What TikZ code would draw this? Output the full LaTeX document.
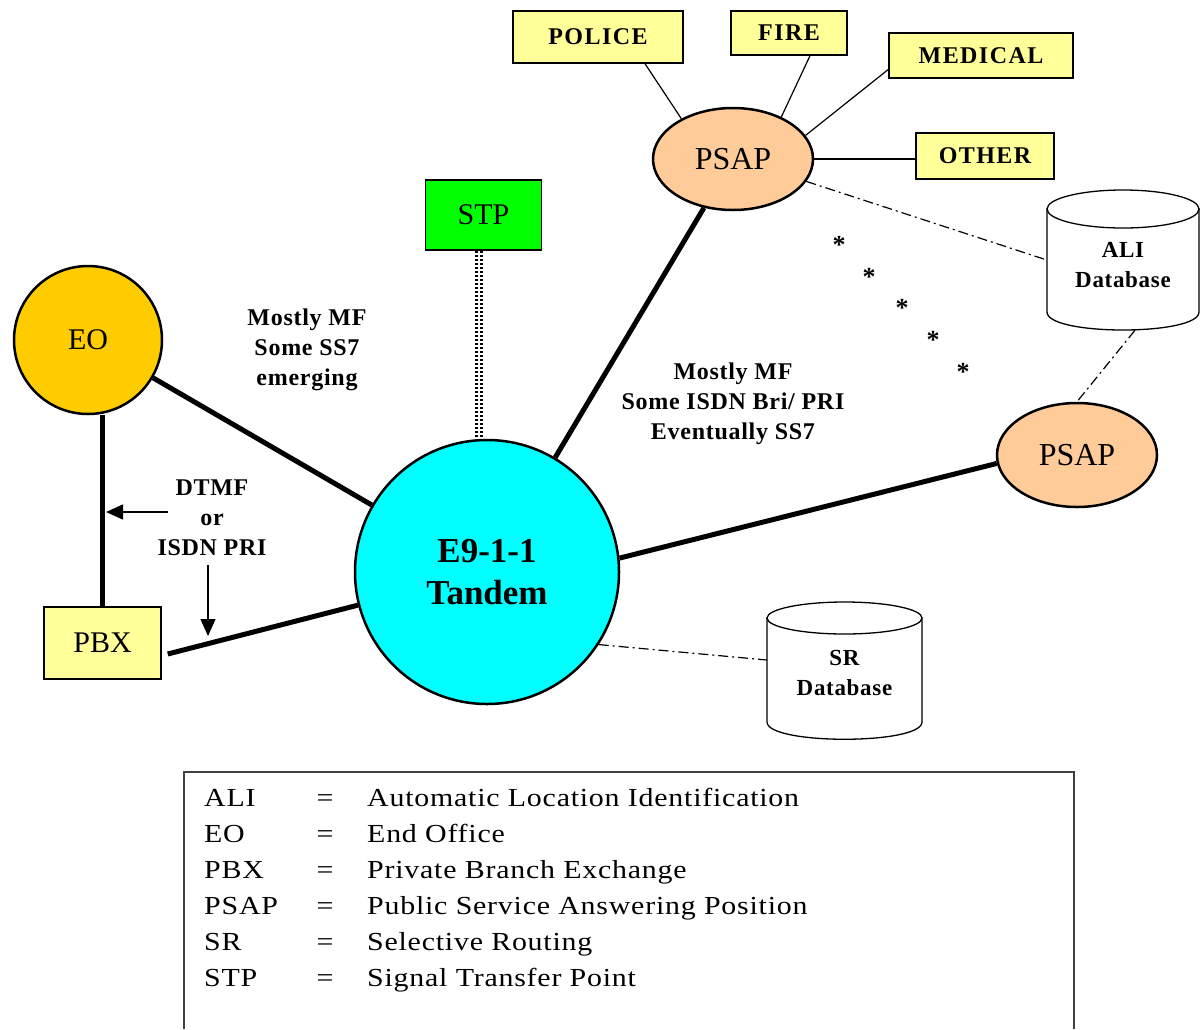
\documentclass[tikz,border=0pt]{standalone}
\usepackage{fontspec}
\setmainfont{Liberation Serif}
\newfontfamily\boxfont[LetterSpace=6]{Liberation Serif}
\newfontfamily\labfont[LetterSpace=3]{Liberation Serif}
\newfontfamily\legfont[FakeStretch=1.15,LetterSpace=3]{Liberation Serif}
\usetikzlibrary{arrows.meta,shapes.geometric}
\definecolor{boxyellow}{RGB}{255,255,153}
\definecolor{stpgreen}{RGB}{0,255,0}
\definecolor{eogold}{RGB}{255,204,0}
\definecolor{psapfill}{RGB}{255,204,153}
\definecolor{tandemcyan}{RGB}{0,255,255}
\begin{document}
\begin{tikzpicture}[x=1pt,y=-1pt,
  ybox/.style={draw, line width=1.5pt, fill=boxyellow, inner sep=0pt,
    font=\boxfont\bfseries\fontsize{24}{28}\selectfont},
  psapnode/.style={ellipse, draw, line width=2.5pt, fill=psapfill, inner sep=0pt,
    minimum width=160pt, font=\fontsize{32}{36}\selectfont},
  lab/.style={align=center, inner sep=0pt, font=\labfont\bfseries\fontsize{24}{30}\selectfont},
  db/.style={align=center, inner sep=0pt, font=\labfont\bfseries\fontsize{23}{30}\selectfont},
  cyl/.style={fill=white, line width=1.3pt},
  trunk/.style={line width=5pt},
  thinline/.style={line width=1.2pt},
  dashdot/.style={line width=1.2pt, dash pattern=on 10pt off 4pt on 2pt off 4pt},
  arr/.style={line width=1.3pt, -{Triangle[length=17pt,width=15pt]}},
  starmark/.style={inner sep=0pt, yshift=-3pt, font=\bfseries\fontsize{26}{26}\selectfont},
  leg/.style={inner sep=0pt, font=\legfont\fontsize{26}{30}\selectfont}
]
\useasboundingbox (0,0) rectangle (1200,1029);

% legend frame
\draw[line width=1.5pt, black!75] (184,1029) -- (184,772) -- (1074,772) -- (1074,1029);

% STP link (double dotted)
\node[draw, line width=1.5pt, fill=stpgreen, minimum width=116pt, minimum height=70pt,
  inner sep=0pt, font=\fontsize{30}{34}\selectfont] (stp) at (483.5,215) {STP};
\node[circle, draw, line width=2.5pt, fill=tandemcyan, minimum size=264pt, inner sep=0pt,
  align=center, font=\bfseries\fontsize{35}{42}\selectfont] (tandem) at (487,572) {E9-1-1\\Tandem};
\draw[line width=8pt, dash pattern=on 2.5pt off 1.5pt] ([xshift=-5pt]stp.south) -- ([xshift=-5pt]stp.south |- tandem.north);
\draw[white, line width=2pt] ([xshift=-5pt]stp.south) -- ([xshift=-5pt]stp.south |- tandem.north);

% boxes
\node[ybox, minimum width=170pt, minimum height=52pt] (police) at (598,37) {POLICE};
\node[ybox, minimum width=116pt, minimum height=44pt] (fire) at (789,33) {FIRE};
\node[ybox, minimum width=184pt, minimum height=45pt] (medical) at (981,55.5) {MEDICAL};
\node[ybox, minimum width=138pt, minimum height=46pt] (other) at (985,156) {OTHER};

\node[psapnode, minimum height=102pt] (psap1) at (733,159) {PSAP};
\node[psapnode, minimum height=104pt] (psap2) at (1077,455) {PSAP};

\node[circle, draw, line width=2.5pt, fill=eogold, minimum size=148pt, inner sep=0pt,
  font=\fontsize{30}{34}\selectfont] (eo) at (88,340) {EO};
\node[draw, line width=1.5pt, fill=boxyellow, minimum width=117pt, minimum height=72pt,
  inner sep=0pt, font=\fontsize{30}{34}\selectfont] (pbx) at (102.5,643) {PBX};

% databases
\filldraw[cyl] (1047,209) -- (1047,312) .. controls (1047,336) and (1199,336) .. (1199,312) -- (1199,209) -- cycle;
\filldraw[cyl] (1123,209) ellipse [x radius=76, y radius=19];
\node[db, minimum width=152pt, minimum height=130pt] (ali) at (1123,265) {ALI\\Database};

\filldraw[cyl] (767,618) -- (767,722) .. controls (767,745) and (922,745) .. (922,722) -- (922,618) -- cycle;
\filldraw[cyl] (844.5,618) ellipse [x radius=77.5, y radius=16];
\node[db, minimum width=155pt, minimum height=122pt] (sr) at (844.5,673) {SR\\Database};

% trunks
\draw[trunk] (eo) -- (tandem);
\draw[trunk] (pbx.north |- eo.south) -- (pbx.north);
\draw[trunk] ([xshift=6pt,yshift=-11pt]pbx.east) -- (tandem);
\draw[trunk] (psap1) -- (tandem);
\draw[trunk] (tandem.6) -- (psap2.186);

% PSAP to agencies
\draw[thinline] (psap1.142) -- ([xshift=47pt]police.south);
\draw[thinline] (psap1.41) -- ([xshift=21pt]fire.south);
\draw[thinline] (psap1.18) -- ([yshift=-14pt]medical.west);
\draw[thinline] (psap1.east) -- (psap1.east -| other.west);

% data links
\draw[dashdot] (psap1.-17) -- ([yshift=5pt]ali.west);
\draw[dashdot] ([xshift=12pt]ali.south) -- (psap2.north);
\draw[dashdot] (tandem.-33) -- ([yshift=13pt]sr.west);

% labels
\node[lab] (l1) at (307,350) {Mostly MF\\Some SS7\\emerging};
\node[lab] (l2) at (733,404) {Mostly MF\\Some ISDN Bri/ PRI\\Eventually SS7};
\node[lab] (l3) at (212,518) {DTMF\\or\\ISDN PRI};

% arrows
\coordinate (a1s) at (168,512);
\coordinate (a1e) at (106,512);
\draw[arr] (a1s) -- (a1e);
\coordinate (a2s) at (208,565);
\coordinate (a2e) at (208,636);
\draw[arr] (a2s) -- (a2e);

% stars
\node[starmark] (s1) at (839,242) {*};
\node[starmark] (s2) at (869,274) {*};
\node[starmark] (s3) at (902,305) {*};
\node[starmark] (s4) at (933,337) {*};
\node[starmark] (s5) at (963,369) {*};

% legend text
\foreach \ab/\df/\yy [count=\i] in {ALI/Automatic Location Identification/806,
  EO/End Office/842, PBX/Private Branch Exchange/878,
  PSAP/Public Service Answering Position/914, SR/Selective Routing/950,
  STP/Signal Transfer Point/986}{
  \node[leg, anchor=base west] (ab\i) at (204,\yy) {\ab};
  \node[leg, anchor=base] (eq\i) at (325,\yy) {=};
  \node[leg, anchor=base west] (df\i) at (367,\yy) {\df};
}
\end{tikzpicture}
\end{document}
